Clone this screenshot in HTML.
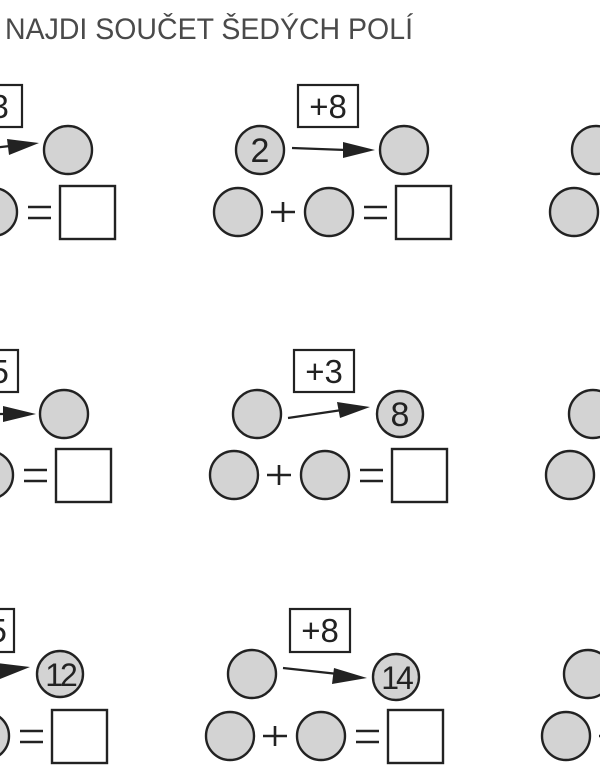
<!DOCTYPE html>
<html><head><meta charset="utf-8"><style>
html,body{margin:0;padding:0;background:#fff;}
svg{display:block;}
</style></head><body>
<svg width="600" height="778" viewBox="0 0 600 778" xmlns="http://www.w3.org/2000/svg">
<defs>
<g id="bottom">
  <circle cx="238" cy="212" r="24" fill="#d3d3d3" stroke="#222" stroke-width="2.4"/>
  <path d="M271 212h24M283 202v20" stroke="#222" stroke-width="2.6"/>
  <circle cx="329" cy="212" r="24" fill="#d3d3d3" stroke="#222" stroke-width="2.4"/>
  <path d="M364 207h23M364 218h23" stroke="#222" stroke-width="2.4"/>
  <rect x="396" y="186" width="55" height="53" fill="#fff" stroke="#222" stroke-width="2.4"/>
</g>
</defs>
<text x="5" y="39" font-family="Liberation Sans, sans-serif" font-size="30" fill="#4a4a4a" textLength="408" lengthAdjust="spacingAndGlyphs">NAJDI SOUČET ŠEDÝCH POLÍ</text>

<g font-family="Liberation Sans, sans-serif" fill="#222" text-anchor="middle">
<!-- Row 1 -->
<g>
  <rect x="298" y="85" width="60" height="42" fill="#fff" stroke="#222" stroke-width="2.2"/>
  <circle cx="260" cy="150" r="24" fill="#d3d3d3" stroke="#222" stroke-width="2.4"/>
  <circle cx="404" cy="150" r="24" fill="#d3d3d3" stroke="#222" stroke-width="2.4"/>
  <path d="M292 148L346 150" stroke="#222" stroke-width="2.2"/>
  <polygon points="343,142 375,150 343,158" fill="#222"/>
  <use href="#bottom"/>
  <text x="328" y="118" font-size="33">+8</text>
  <text x="260" y="162" font-size="34">2</text>
</g>
<g transform="translate(-336,0)">
  <rect x="298" y="85" width="60" height="42" fill="#fff" stroke="#222" stroke-width="2.2"/>
  <text x="326" y="118" font-size="33">+3</text>
  <circle cx="404" cy="150" r="24" fill="#d3d3d3" stroke="#222" stroke-width="2.4"/>
  <path d="M292 152L346 146" stroke="#222" stroke-width="2.2"/>
  <polygon points="343,139 375,143 345,155" fill="#222"/>
  <use href="#bottom"/>
</g>
<g transform="translate(336,0)">
  <circle cx="260" cy="150" r="24" fill="#d3d3d3" stroke="#222" stroke-width="2.4"/>
  <use href="#bottom"/>
</g>

<!-- Row 2 -->
<g transform="translate(-4,264)">
  <rect x="298" y="86" width="60" height="42" fill="#fff" stroke="#222" stroke-width="2.2"/>
  <text x="328" y="119" font-size="33">+3</text>
  <circle cx="261" cy="150" r="24" fill="#d3d3d3" stroke="#222" stroke-width="2.4"/>
  <circle cx="404" cy="150" r="23" fill="#d3d3d3" stroke="#222" stroke-width="2.4"/>
  <text x="404" y="162" font-size="34">8</text>
  <path d="M292 154L346 146" stroke="#222" stroke-width="2.2"/>
  <polygon points="341,138 374,143 344,154" fill="#222"/>
  <use href="#bottom" transform="translate(0,-1)"/>
</g>
<g transform="translate(-340,264)">
  <rect x="298" y="86" width="60" height="42" fill="#fff" stroke="#222" stroke-width="2.2"/>
  <text x="330" y="119" font-size="33">+5</text>
  <circle cx="404" cy="150" r="24" fill="#d3d3d3" stroke="#222" stroke-width="2.4"/>
  <path d="M292 150L346 150" stroke="#222" stroke-width="2.2"/>
  <polygon points="343,142 376,150 343,158" fill="#222"/>
  <use href="#bottom" transform="translate(0,-1)"/>
</g>
<g transform="translate(332,264)">
  <circle cx="261" cy="150" r="24" fill="#d3d3d3" stroke="#222" stroke-width="2.4"/>
  <use href="#bottom" transform="translate(0,-1)"/>
</g>

<!-- Row 3 -->
<g transform="translate(-8,524)">
  <rect x="298" y="85" width="60" height="43" fill="#fff" stroke="#222" stroke-width="2.2"/>
  <text x="328" y="118" font-size="33">+8</text>
  <circle cx="260" cy="150" r="24" fill="#d3d3d3" stroke="#222" stroke-width="2.4"/>
  <circle cx="404" cy="153" r="23" fill="#d3d3d3" stroke="#222" stroke-width="2.4"/>
  <text x="404" y="165" font-size="32" letter-spacing="-3">14</text>
  <path d="M291 144L346 150" stroke="#222" stroke-width="2.2"/>
  <polygon points="342,144 375,154 340,160" fill="#222"/>
  <use href="#bottom"/>
</g>
<g transform="translate(-344,524)">
  <rect x="298" y="85" width="60" height="43" fill="#fff" stroke="#222" stroke-width="2.2"/>
  <text x="332" y="118" font-size="33">+5</text>
  <circle cx="404" cy="150" r="23" fill="#d3d3d3" stroke="#222" stroke-width="2.4"/>
  <text x="404" y="162" font-size="32" letter-spacing="-3">12</text>
  <path d="M291 152L346 146" stroke="#222" stroke-width="2.2"/>
  <polygon points="341,139 374,143 344,155" fill="#222"/>
  <use href="#bottom"/>
</g>
<g transform="translate(328,524)">
  <circle cx="260" cy="150" r="24" fill="#d3d3d3" stroke="#222" stroke-width="2.4"/>
  <use href="#bottom"/>
</g>
</g>
</svg>
</body></html>
